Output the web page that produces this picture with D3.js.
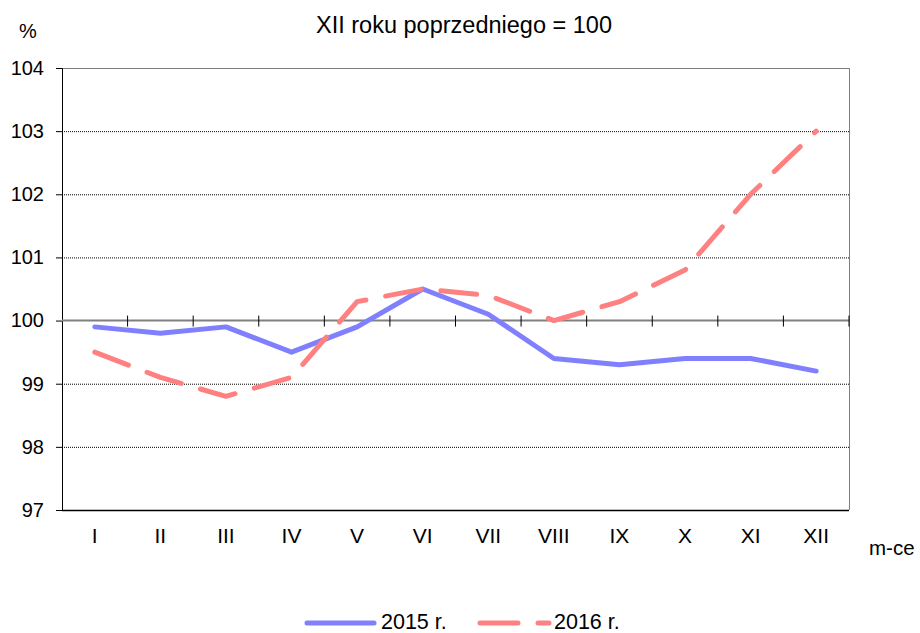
<!DOCTYPE html>
<html>
<head>
<meta charset="utf-8">
<script src="https://cdn.jsdelivr.net/npm/d3@7"></script>
<style>
  body { margin: 0; background: #fff; }
  text { font-family: "Liberation Sans", Arial, sans-serif; fill: #000; }
</style>
</head>
<body>
<div id="chart"></div>
<script>
// Dane
const months = ["I", "II", "III", "IV", "V", "VI", "VII", "VIII", "IX", "X", "XI", "XII"];
const values2015 = [99.9, 99.8, 99.9, 99.5, 99.9, 100.5, 100.1, 99.4, 99.3, 99.4, 99.4, 99.2];
const values2016 = [99.5, 99.1, 98.8, 99.1, 100.3, 100.5, 100.4, 100.0, 100.3, 100.8, 102.0, 103.0];
const yTicks = [97, 98, 99, 100, 101, 102, 103, 104];

const width = 920, height = 633;
const plotLeft = 62, plotRight = 849, plotTop = 68, plotBottom = 510;

const svg = d3.select("#chart").append("svg")
    .attr("width", width)
    .attr("height", height);

const x = d3.scaleBand().domain(months).range([plotLeft, plotRight]);
const y = d3.scaleLinear().domain([97, 104]).range([plotBottom, plotTop]);

// Linie siatki
svg.append("g")
    .selectAll("line")
    .data(yTicks.filter(d => d !== 100 && d !== 104 && d !== 97))
    .enter()
    .append("line")
    .attr("x1", plotLeft).attr("x2", plotRight)
    .attr("y1", d => y(d) + 0.5).attr("y2", d => y(d) + 0.5)
    .attr("stroke", "#000")
    .attr("stroke-width", 1)
    .attr("stroke-dasharray", "1,1");

// Ramka
svg.append("line").attr("x1", plotLeft).attr("x2", plotRight).attr("y1", plotTop + 0.5).attr("y2", plotTop + 0.5)
    .attr("stroke", "#808080");
svg.append("line").attr("x1", plotRight + 0.5).attr("x2", plotRight + 0.5).attr("y1", plotTop).attr("y2", plotBottom)
    .attr("stroke", "#808080");

// Oś Y
const yAxis = svg.append("g")
    .attr("transform", `translate(${plotLeft},0)`)
    .call(d3.axisLeft(y).tickValues(yTicks).tickSize(6).tickPadding(12).tickFormat(d3.format("d")));
yAxis.select(".domain").attr("stroke", "#000");
yAxis.selectAll(".tick line").attr("stroke", "#000");
yAxis.selectAll("text")
    .attr("font-size", "20px")
    .attr("font-family", "Liberation Sans, Arial, sans-serif")
    .attr("fill", "#000");

// Dolna krawędź
svg.append("line").attr("x1", plotLeft).attr("x2", plotRight).attr("y1", plotBottom + 0.5).attr("y2", plotBottom + 0.5)
    .attr("stroke", "#000").attr("stroke-width", 1.5);

// Oś X na poziomie 100
svg.append("line")
    .attr("x1", plotLeft).attr("x2", plotRight)
    .attr("y1", y(100)).attr("y2", y(100))
    .attr("stroke", "#808080")
    .attr("stroke-width", 2);

svg.append("g")
    .selectAll("line")
    .data(months)
    .enter()
    .append("line")
    .attr("x1", d => x(d) + x.bandwidth())
    .attr("x2", d => x(d) + x.bandwidth())
    .attr("y1", y(100) - 5)
    .attr("y2", y(100) + 6)
    .attr("stroke", "#000")
    .attr("stroke-width", 1);

// Etykiety miesięcy
svg.append("g")
    .selectAll("text")
    .data(months)
    .enter()
    .append("text")
    .attr("x", d => x(d) + x.bandwidth() / 2)
    .attr("y", 543)
    .attr("text-anchor", "middle")
    .attr("font-size", "21px")
    .text(d => d);

// Linie danych
const line = d3.line()
    .x((d, i) => x(months[i]) + x.bandwidth() / 2)
    .y(d => y(d));

svg.append("path")
    .datum(values2015)
    .attr("d", line)
    .attr("fill", "none")
    .attr("stroke", "#8080FF")
    .attr("stroke-width", 5)
    .attr("stroke-linejoin", "round")
    .attr("stroke-linecap", "round");

svg.append("path")
    .datum(values2016)
    .attr("d", line)
    .attr("fill", "none")
    .attr("stroke", "#FF8080")
    .attr("stroke-width", 5)
    .attr("stroke-linejoin", "round")
    .attr("stroke-linecap", "round")
    .attr("stroke-dasharray", "36,20");

// Tytuły
svg.append("text")
    .attr("x", 464).attr("y", 33)
    .attr("text-anchor", "middle")
    .attr("font-size", "23.5px")
    .text("XII roku poprzedniego = 100");

svg.append("text")
    .attr("x", 19).attr("y", 38)
    .attr("font-size", "20px")
    .text("%");

svg.append("text")
    .attr("x", 869).attr("y", 555)
    .attr("font-size", "20.5px")
    .text("m-ce");

// Legenda
const legend = svg.append("g");
legend.append("line")
    .attr("x1", 307).attr("x2", 374).attr("y1", 623).attr("y2", 623)
    .attr("stroke", "#8080FF").attr("stroke-width", 5).attr("stroke-linecap", "round");
legend.append("text")
    .attr("x", 381).attr("y", 629)
    .attr("font-size", "21.5px")
    .text("2015 r.");
legend.append("line")
    .attr("x1", 480).attr("x2", 549).attr("y1", 623).attr("y2", 623)
    .attr("stroke", "#FF8080").attr("stroke-width", 5).attr("stroke-linecap", "round")
    .attr("stroke-dasharray", "38,20");
legend.append("text")
    .attr("x", 554).attr("y", 629)
    .attr("font-size", "21.5px")
    .text("2016 r.");
</script>
</body>
</html>
